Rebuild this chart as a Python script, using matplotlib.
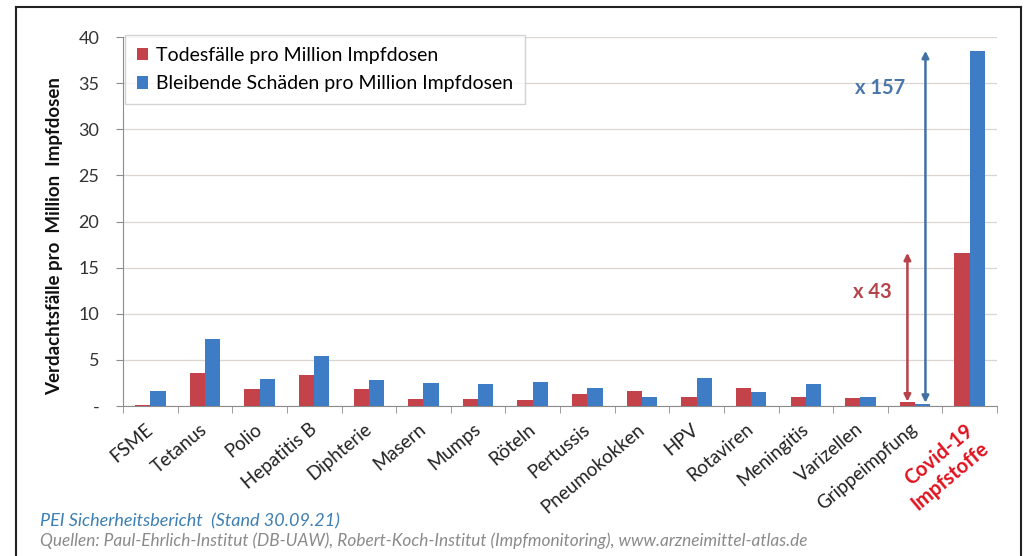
import matplotlib
matplotlib.use('Agg')
import matplotlib.pyplot as plt
import numpy as np
from matplotlib.lines import Line2D
import matplotlib.transforms as mtransforms

plt.rcParams['font.family'] = ['Lato', 'DejaVu Sans']

# =============================================================================
# Data
# =============================================================================

categories = ['FSME', 'Tetanus', 'Polio', 'Hepatitis B', 'Diphterie', 'Masern',
              'Mumps', 'Röteln', 'Pertussis', 'Pneumokokken', 'HPV', 'Rotaviren',
              'Meningitis', 'Varizellen', 'Grippeimpfung', 'Covid-19\nImpfstoffe']

todesfaelle = [0.15, 3.6, 1.8, 3.4, 1.8, 0.8, 0.8, 0.7, 1.25, 1.6, 1.0, 1.95,
               1.0, 0.9, 0.38, 16.6]
schaeden = [1.6, 7.3, 2.95, 5.4, 2.8, 2.5, 2.35, 2.6, 1.9, 1.0, 3.05, 1.5,
            2.35, 1.0, 0.25, 38.5]

yticks = [0, 5, 10, 15, 20, 25, 30, 35, 40]
yticklabels = ['-', '5', '10', '15', '20', '25', '30', '35', '40']

red = '#C4434A'
blue = '#3E7CC6'

# =============================================================================
# Plot
# =============================================================================

W, H = 1024, 556
fig = plt.figure(figsize=(W / 100, H / 100), dpi=100)
ax = fig.add_axes([123 / W, 1 - 406 / H, 874 / W, 369 / H])

x = np.arange(len(categories))
bw = 0.28
ax.bar(x - bw / 2, todesfaelle, bw, color=red, label='Todesfälle pro Million Impfdosen', zorder=3)
ax.bar(x + bw / 2, schaeden, bw, color=blue, label='Bleibende Schäden pro Million Impfdosen', zorder=3)

ax.set_xlim(-0.5, len(categories) - 0.5)
ax.set_ylim(0, 40)
ax.set_yticks(yticks)
ax.set_yticklabels(yticklabels, fontsize=13, color='#333333')
ax.yaxis.grid(True, color='#ddd5d0', lw=0.9, zorder=0)
ax.tick_params(axis='y', length=5, color='#8c8c8c', pad=12)

ax.set_xticks(x)
ax.set_xticks(np.arange(len(categories) + 1) - 0.5, minor=True)
ax.tick_params(axis='x', which='major', length=0, pad=15)
ax.tick_params(axis='x', which='minor', length=5, color='#8c8c8c', direction='out')
ax.set_xticklabels(categories, rotation=40, ha='right', va='center',
                   rotation_mode='anchor', fontsize=13.5, color='#222222')
labels = ax.get_xticklabels()
covid = labels[-1]
covid.set_color('#E0121F')
covid.set_fontweight('bold')
covid.set_fontsize(14.5)
covid.set_multialignment('right')
covid.set_transform(covid.get_transform() +
                    mtransforms.ScaledTranslation(9 / 100, -10 / 100, fig.dpi_scale_trans))

for s in ['top', 'right']:
    ax.spines[s].set_visible(False)
for s in ['left', 'bottom']:
    ax.spines[s].set_color('#8c8c8c')

# arrows
ax.annotate('', xy=(14 - bw / 2, todesfaelle[-1]), xytext=(14 - bw / 2, todesfaelle[-2] + 0.1),
            arrowprops=dict(arrowstyle='<|-|>', color='#B5434A', lw=1.8,
                            mutation_scale=10, shrinkA=0, shrinkB=0))
ax.annotate('', xy=(14 + bw / 2 + 0.05, schaeden[-1]), xytext=(14 + bw / 2 + 0.05, schaeden[-2] + 0.1),
            arrowprops=dict(arrowstyle='<|-|>', color='#4270A6', lw=1.8,
                            mutation_scale=10, shrinkA=0, shrinkB=0))
fig.text(872 / W, 1 - 292 / H, 'x 43', color='#B5434A', fontsize=14.5,
         fontweight='bold', ha='center', va='center')
fig.text(880 / W, 1 - 88 / H, 'x 157', color='#4A76AC', fontsize=14.5,
         fontweight='bold', ha='center', va='center')

leg = ax.legend(loc='upper left', bbox_to_anchor=(125 / W, 1 - 35 / H),
                bbox_transform=fig.transFigure, fontsize=14, frameon=True,
                fancybox=False, edgecolor='#c8c8c8', handlelength=0.6,
                handleheight=0.6, handletextpad=0.4, borderpad=0.6,
                labelspacing=0.6, borderaxespad=0)
leg.get_frame().set_linewidth(1.0)

fig.text(55 / W, 1 - 236 / H, 'Verdachtsfälle pro  Million  Impfdosen',
         rotation=90, fontsize=13.5, fontweight='bold', ha='center', va='center',
         color='#111111')

fig.text(40 / W, 1 - 521 / H, 'PEI Sicherheitsbericht  (Stand 30.09.21)',
         fontsize=13, style='italic', color='#3D7FB2', va='center')
fig.text(40 / W, 1 - 541 / H,
         'Quellen: Paul-Ehrlich-Institut (DB-UAW), Robert-Koch-Institut (Impfmonitoring), www.arzneimittel-atlas.de',
         fontsize=12.4, style='italic', color='#8a8a8a', va='center')

# black frame
for xs, ys in [([16, 16], [7, H]), ([16, 1021], [7, 7]), ([1021, 1021], [7, H])]:
    fig.add_artist(Line2D([v / W for v in xs], [1 - v / H for v in ys],
                          color='#222222', lw=1.5))

fig.savefig('out.png', dpi=100)
